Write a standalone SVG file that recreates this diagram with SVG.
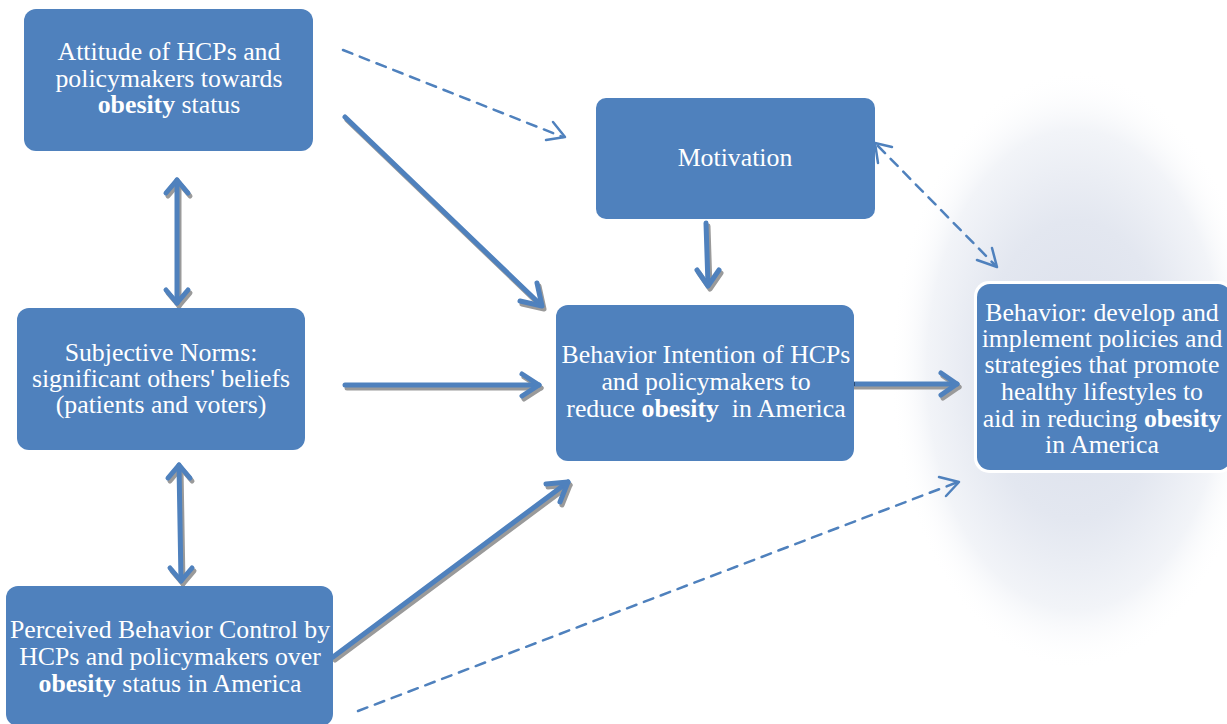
<svg xmlns="http://www.w3.org/2000/svg" width="1227" height="724" viewBox="0 0 1227 724">
<style>
.box{fill:#4f81bd}
.t{font-family:'Liberation Serif','Times New Roman',serif;font-size:25.8px;fill:#ffffff;text-anchor:middle}
.b{font-weight:bold}
.solid{stroke:#4f81bd;stroke-width:5;fill:none;stroke-linecap:round;stroke-linejoin:round}
.shadow{stroke:#9a9a9a;stroke-width:5;fill:none;stroke-linecap:round;stroke-linejoin:round}
.dash{stroke:#4f81bd;stroke-width:2.5;fill:none;stroke-dasharray:10,8;stroke-linecap:round}
.head{stroke:#4f81bd;stroke-width:2.5;fill:none;stroke-linecap:round;stroke-linejoin:round}
</style>
<defs>
<radialGradient id="glow" cx="0.5" cy="0.5" r="0.5">
<stop offset="0" stop-color="#dadfeb"/>
<stop offset="0.5" stop-color="#e3e7f0"/>
<stop offset="0.8" stop-color="#f2f4f8"/>
<stop offset="1" stop-color="#ffffff" stop-opacity="0"/>
</radialGradient>
</defs>
<rect width="1227" height="724" fill="#ffffff"/>
<ellipse cx="1075" cy="370" rx="185" ry="300" fill="url(#glow)"/>
<g id="connectors">
<line class="dash" x1="343" y1="50" x2="563" y2="137"/>
<polyline class="head" points="553,122 565,137 546,140"/>
<g transform="translate(2,3)"><line class="shadow" x1="345" y1="117" x2="541" y2="305"/><polyline class="shadow" points="537,283 542,306 520,301"/></g>
<line class="solid" x1="345" y1="117" x2="541" y2="305"/><polyline class="solid" points="537,283 542,306 520,301"/>
<g transform="translate(2,3)"><line class="shadow" x1="177" y1="180" x2="177" y2="303"/><polyline class="shadow" points="166,193 177,180 188,193"/><polyline class="shadow" points="166,290 177,303 188,290"/></g>
<line class="solid" x1="177" y1="180" x2="177" y2="303"/><polyline class="solid" points="166,193 177,180 188,193"/><polyline class="solid" points="166,290 177,303 188,290"/>
<g transform="translate(2,3)"><line class="shadow" x1="179" y1="465" x2="181" y2="581"/><polyline class="shadow" points="168,478 179,465 190,478"/><polyline class="shadow" points="170,568 181,581 192,568"/></g>
<line class="solid" x1="179" y1="465" x2="181" y2="581"/><polyline class="solid" points="168,478 179,465 190,478"/><polyline class="solid" points="170,568 181,581 192,568"/>
<g transform="translate(2,3)"><line class="shadow" x1="345" y1="385" x2="539" y2="385"/><polyline class="shadow" points="522,374 539,385 522,396"/></g>
<line class="solid" x1="345" y1="385" x2="539" y2="385"/><polyline class="solid" points="522,374 539,385 522,396"/>
<g transform="translate(2,3)"><line class="shadow" x1="333" y1="657" x2="568" y2="482"/><polyline class="shadow" points="546,484 568,482 560,502"/></g>
<line class="solid" x1="333" y1="657" x2="568" y2="482"/><polyline class="solid" points="546,484 568,482 560,502"/>
<line class="dash" x1="358" y1="711" x2="958" y2="482"/>
<polyline class="head" points="939,477 959,482 946,496"/>
<g transform="translate(2,3)"><line class="shadow" x1="706" y1="223" x2="708" y2="285"/><polyline class="shadow" points="697,270 708,286 719,270"/></g>
<line class="solid" x1="706" y1="223" x2="708" y2="285"/><polyline class="solid" points="697,270 708,286 719,270"/>
<g transform="translate(2,3)"><line class="shadow" x1="845" y1="384" x2="957" y2="384"/><polyline class="shadow" points="941,373 957,384 941,395"/></g>
<line class="solid" x1="845" y1="384" x2="957" y2="384"/><polyline class="solid" points="941,373 957,384 941,395"/>
<line x1="843" y1="384" x2="855" y2="384" stroke="#2c4d75" stroke-width="4"/>
<line class="dash" x1="878" y1="146" x2="994" y2="264"/>
<polyline class="head" points="878,163 875,143 892,147"/>
<polyline class="head" points="977,260 997,267 992,248"/>
</g>
<g id="attitude">
<rect class="box" x="24" y="9" width="289" height="142" rx="12"/>
<text class="t" x="169" y="60">Attitude of HCPs and</text>
<text class="t" x="169" y="87">policymakers towards</text>
<text class="t" x="169" y="113"><tspan class="b">obesity</tspan> status</text>
</g>
<g id="motivation">
<rect class="box" x="596" y="98" width="279" height="121" rx="10"/>
<text class="t" x="735" y="166">Motivation</text>
</g>
<g id="subjective">
<rect class="box" x="17" y="308" width="288" height="142" rx="12"/>
<text class="t" x="161" y="361">Subjective Norms:</text>
<text class="t" x="161" y="387">significant others' beliefs</text>
<text class="t" x="161" y="413">(patients and voters)</text>
</g>
<g id="intention">
<rect class="box" x="556" y="305" width="298" height="156" rx="12"/>
<text class="t" x="706" y="363">Behavior Intention of HCPs</text>
<text class="t" x="706" y="390">and policymakers to</text>
<text class="t" x="706" y="417" xml:space="preserve">reduce <tspan class="b">obesity</tspan>  in America</text>
</g>
<g id="perceived">
<rect class="box" x="6" y="586" width="327" height="140" rx="12"/>
<text class="t" x="170" y="638">Perceived Behavior Control by</text>
<text class="t" x="170" y="665">HCPs and policymakers over</text>
<text class="t" x="170" y="692"><tspan class="b">obesity</tspan> status in America</text>
</g>
<g id="behavior">
<rect x="974" y="281" width="260" height="192" rx="15" fill="#ffffff"/>
<rect class="box" x="977" y="284" width="254" height="186" rx="13"/>
<text class="t" x="1102" y="321">Behavior: develop and</text>
<text class="t" x="1102" y="347">implement policies and</text>
<text class="t" x="1102" y="373">strategies that promote</text>
<text class="t" x="1102" y="400">healthy lifestyles to</text>
<text class="t" x="1102" y="427">aid in reducing <tspan class="b">obesity</tspan></text>
<text class="t" x="1102" y="453">in America</text>
</g>
</svg>
